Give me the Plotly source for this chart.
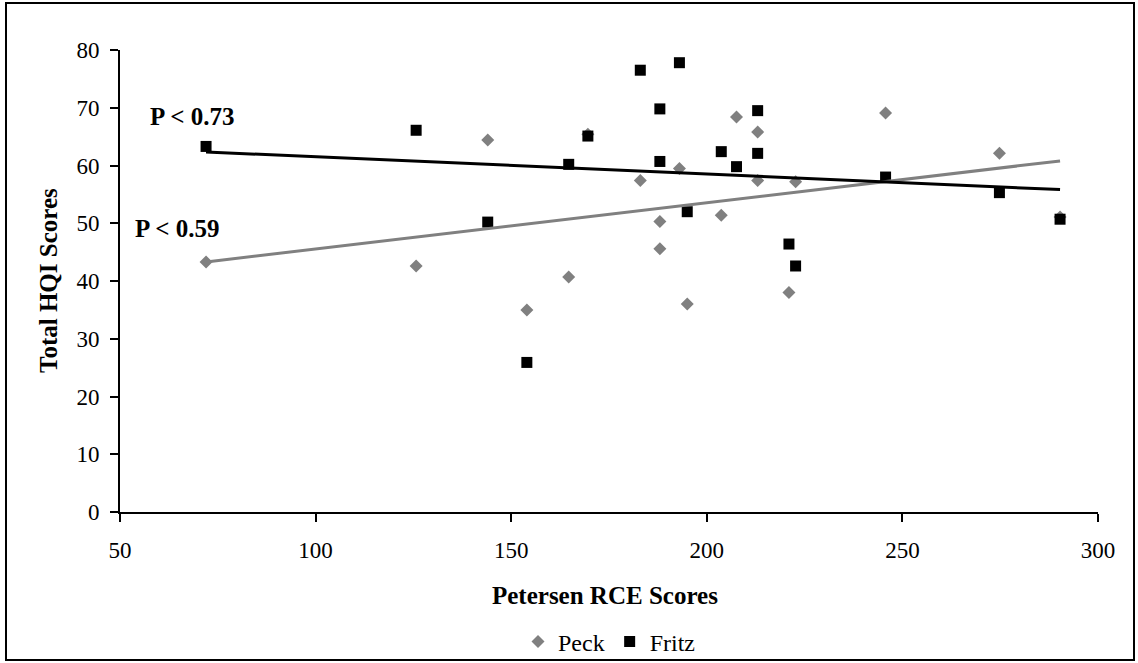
import numpy as np
import plotly.graph_objects as go

# Petersen RCE scores (shared x) and HQI scores
peck_x = [72, 125.7, 144, 154, 164.7, 169.6, 183, 188, 188, 193, 195, 203.7, 207.6, 213, 213, 221, 222.7, 245.7, 274.8, 290.3]
peck_y = [43.3, 42.6, 64.4, 35.0, 40.7, 65.4, 57.4, 50.3, 45.6, 59.5, 36.0, 51.4, 68.4, 65.8, 57.4, 38.0, 57.2, 69.1, 62.1, 51.1]

fritz_x = [72, 125.7, 144, 154, 164.7, 169.6, 183, 188, 188, 193, 195, 203.7, 207.6, 213, 213, 221, 222.7, 245.7, 274.8, 290.3]
fritz_y = [63.3, 66.1, 50.2, 25.9, 60.2, 65.1, 76.5, 69.8, 60.7, 77.8, 52.0, 62.4, 59.8, 69.5, 62.1, 46.4, 42.6, 58.0, 55.3, 50.7]

x_ticks = [50, 100, 150, 200, 250, 300]
y_ticks = [0, 10, 20, 30, 40, 50, 60, 70, 80]

labels = ["P < 0.73", "P < 0.59"]
label_pos = [(68.5, 68.5), (64.5, 49.1)]

FONT = "Liberation Serif, Times New Roman, serif"
GREY = "#808080"

fig = go.Figure()
fig.add_trace(go.Scatter(x=peck_x, y=peck_y, mode="markers", name="Peck",
                         marker=dict(symbol="diamond", size=10, color=GREY)))
fig.add_trace(go.Scatter(x=fritz_x, y=fritz_y, mode="markers", name="Fritz",
                         marker=dict(symbol="square", size=11, color="black")))

# linear trend lines
for xs, ys, col in [(peck_x, peck_y, GREY), (fritz_x, fritz_y, "black")]:
    m, b = np.polyfit(xs, ys, 1)
    xr = [min(xs), max(xs)]
    fig.add_trace(go.Scatter(x=xr, y=[m * v + b for v in xr], mode="lines",
                             line=dict(color=col, width=3), showlegend=False,
                             hoverinfo="skip"))

for t, (lx, ly) in zip(labels, label_pos):
    fig.add_annotation(x=lx, y=ly, xref="x", yref="y", text="<b>%s</b>" % t,
                       showarrow=False, xanchor="center", yanchor="middle",
                       font=dict(size=25, family=FONT, color="black"))

fig.add_annotation(x=(605 - 120) / 978, y=(512 - 595) / 462, xref="paper", yref="paper",
                   text="<b>Petersen RCE Scores</b>", showarrow=False,
                   xanchor="center", yanchor="middle",
                   font=dict(size=25, family=FONT, color="black"))
fig.add_annotation(x=(48 - 120) / 978, y=(512 - 281) / 462, xref="paper", yref="paper",
                   text="<b>Total HQI Scores</b>", showarrow=False, textangle=-90,
                   xanchor="center", yanchor="middle",
                   font=dict(size=25, family=FONT, color="black"))

# outer chart border
fig.add_shape(type="rect", xref="paper", yref="paper",
              x0=(6 - 120) / 978, x1=(1134 - 120) / 978,
              y0=(512 - 660) / 462, y1=(512 - 3) / 462,
              line=dict(color="black", width=2), fillcolor="rgba(0,0,0,0)")

fig.update_layout(
    width=1138, height=663,
    margin=dict(l=120, r=40, t=50, b=151),
    paper_bgcolor="white", plot_bgcolor="white",
    font=dict(family=FONT, size=23, color="black"),
    showlegend=True,
    legend=dict(orientation="h", x=0.5, xanchor="center", xref="paper",
                y=(663 - 642) / 663, yref="container", yanchor="middle",
                bgcolor="rgba(0,0,0,0)",
                font=dict(size=24, family=FONT), itemwidth=30, tracegroupgap=0),
    xaxis=dict(range=[50, 300], tickvals=x_ticks, showgrid=False, zeroline=False,
               showline=True, linecolor="black", linewidth=2,
               ticks="outside", ticklen=8, tickwidth=2, tickcolor="black",
               ticklabelstandoff=8),
    yaxis=dict(range=[0, 80], tickvals=y_ticks, showgrid=False, zeroline=False,
               showline=True, linecolor="black", linewidth=2,
               ticks="outside", ticklen=8, tickwidth=2, tickcolor="black",
               ticklabelstandoff=6),
)

fig.write_html("out.html", config={"displayModeBar": False},
               post_script="document.body.style.margin='0';")
